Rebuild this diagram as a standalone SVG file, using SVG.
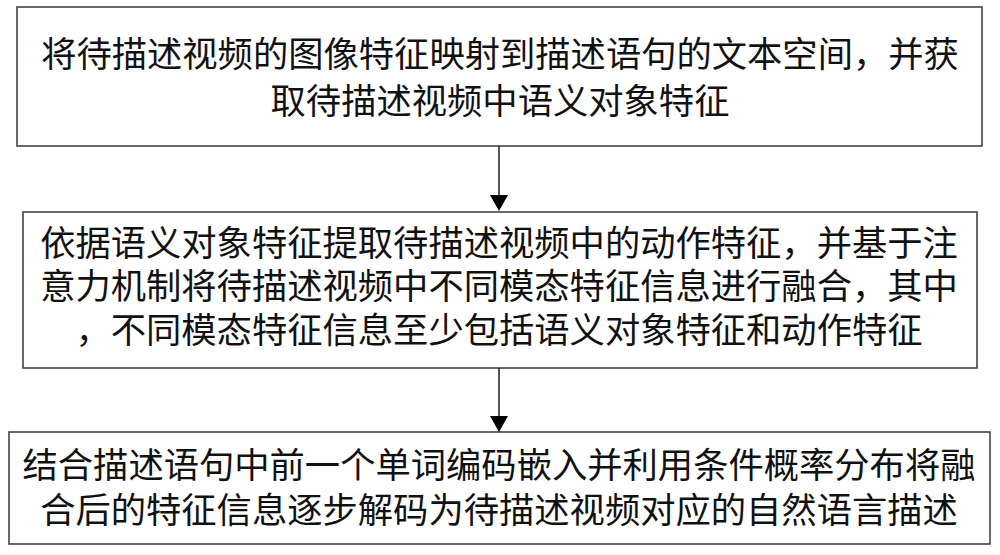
<svg xmlns="http://www.w3.org/2000/svg" width="1000" height="555" viewBox="0 0 1000 555">
<style>
.box{fill:#fff;stroke:#444;stroke-width:1.6}
.t{font-family:"Noto Sans CJK SC","Noto Sans CJK JP",sans-serif;font-size:35.3px;fill:#111;text-anchor:middle}
.c{stroke:#111;stroke-width:1.4;fill:none}
</style>
<defs>
<marker id="ah" markerUnits="userSpaceOnUse" markerWidth="18" markerHeight="16" refX="9" refY="16" orient="auto-start-reverse" viewBox="0 0 18 16">
<path d="M0,0 L18,0 L9,16 Z" fill="#000"/>
</marker>
</defs>
<rect width="1000" height="555" fill="#fff"/>
<g id="node1">
<rect class="box" x="17" y="7" width="965" height="139"/>
<text class="t" x="500" y="67">将待描述视频的图像特征映射到描述语句的文本空间，并获</text>
<text class="t" x="500" y="114">取待描述视频中语义对象特征</text>
</g>
<g id="node2">
<rect class="box" x="23" y="212" width="954" height="156"/>
<text class="t" x="499" y="256">依据语义对象特征提取待描述视频中的动作特征，并基于注</text>
<text class="t" x="499" y="299">意力机制将待描述视频中不同模态特征信息进行融合，其中</text>
<text class="t" x="499" y="343">，不同模态特征信息至少包括语义对象特征和动作特征</text>
</g>
<g id="node3">
<rect class="box" x="9" y="432" width="981" height="112"/>
<text class="t" x="499" y="478">结合描述语句中前一个单词编码嵌入并利用条件概率分布将融</text>
<text class="t" x="499" y="523">合后的特征信息逐步解码为待描述视频对应的自然语言描述</text>
</g>
<g id="connectors">
<line class="c" x1="499" y1="146" x2="499" y2="196"/>
<path d="M490,195 L508,195 L499,211 Z" fill="#000"/>
<line class="c" x1="499" y1="368" x2="499" y2="417"/>
<path d="M490,416 L508,416 L499,432 Z" fill="#000"/>
</g>
</svg>
